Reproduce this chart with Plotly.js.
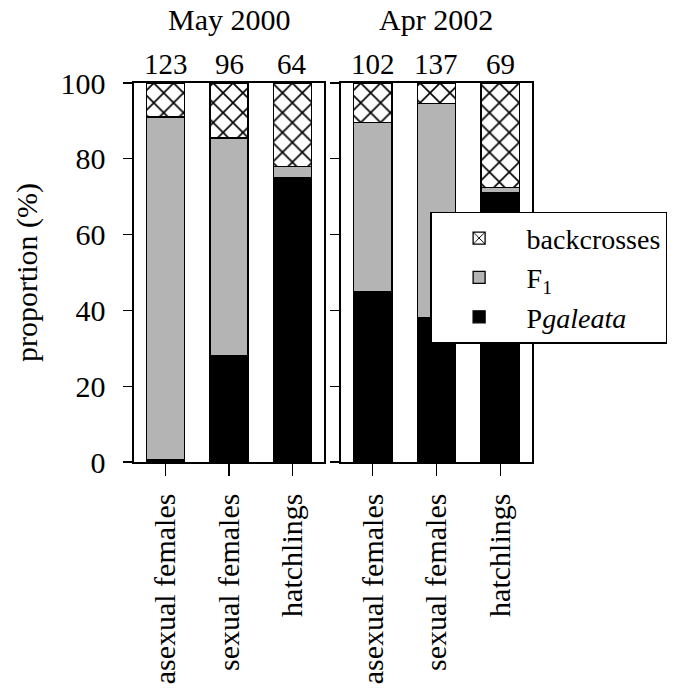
<!DOCTYPE html>
<html>
<head>
<meta charset="utf-8">
<script src="https://cdn.plot.ly/plotly-3.0.1.min.js"></script>
<style>html,body{margin:0;padding:0;background:#fff;}#chart{width:676px;height:689px;}</style>
</head>
<body>
<div id="chart"></div>
<script>
// ---- data ----
const categories = ["asexual females", "sexual females", "hatchlings"];
const panelTitles = ["May 2000", "Apr 2002"];
const counts2000 = [123, 96, 64];
const counts2002 = [102, 137, 69];
const galeata2000 = [0.5, 28, 75];
const f1_2000 = [90.5, 57.5, 3];
const back2000 = [9, 14.5, 22];
const galeata2002 = [45, 38, 71];
const f1_2002 = [44.5, 56.5, 1.5];
const back2002 = [10.5, 5.5, 27.5];
const seriesNames = ["P<i>galeata</i>", "F<sub>1</sub>", "backcrosses"];

// ---- styles ----
const FONT = "Liberation Serif";
const lineStyle = {color: "#000", width: 1.3};
const styles = [
  {color: "#000000", line: lineStyle},
  {color: "#b4b4b4", line: lineStyle},
  {color: "#ffffff", line: lineStyle,
   pattern: {shape: "x", bgcolor: "#ffffff", fgcolor: "#000000", size: 14, solidity: 0.22}}
];

const panelData = [
  {xa: "x", ya: "y", series: [galeata2000, f1_2000, back2000], counts: counts2000},
  {xa: "x2", ya: "y2", series: [galeata2002, f1_2002, back2002], counts: counts2002}
];

const traces = [];
panelData.forEach((p, pi) => {
  p.series.forEach((vals, si) => {
    traces.push({
      type: "bar",
      x: categories,
      y: vals,
      name: seriesNames[si],
      legendgroup: "s" + si,
      showlegend: pi === 0,
      xaxis: p.xa,
      yaxis: p.ya,
      marker: styles[si],
      hoverinfo: "x+y+name"
    });
  });
});

const annotations = [];
panelData.forEach((p, pi) => {
  annotations.push({
    text: panelTitles[pi], xref: p.xa, yref: "paper", x: categories[1], y: 1,
    xanchor: "center", yanchor: "bottom", yshift: 45, showarrow: false,
    font: {family: FONT, size: 30, color: "#000"}
  });
  p.counts.forEach((c, ci) => {
    annotations.push({
      text: String(c), xref: p.xa, yref: "paper", x: categories[ci], y: 1,
      xanchor: "center", yanchor: "bottom", yshift: 1, showarrow: false,
      font: {family: FONT, size: 29, color: "#000"}
    });
  });
});

const xCommon = {
  type: "category", range: [-0.5, 2.5], showline: true, linecolor: "#000", linewidth: 1.6,
  mirror: true, ticks: "outside", ticklen: 12, tickwidth: 1.3, tickcolor: "#000",
  tickangle: -90, tickfont: {family: FONT, size: 30, color: "#000"},
  ticklabelstandoff: 6, showgrid: false, zeroline: false, fixedrange: true
};
const yCommon = {
  range: [0, 100], tickvals: [0, 20, 40, 60, 80, 100], showline: true, linecolor: "#000",
  linewidth: 1.6, mirror: true, ticks: "outside", ticklen: 9, tickwidth: 1.3, tickcolor: "#000",
  tickfont: {family: FONT, size: 30, color: "#000"}, showgrid: false, zeroline: false, fixedrange: true
};

const layout = {
  width: 676, height: 689,
  margin: {l: 134, r: 144, t: 83, b: 227, autoexpand: false},
  paper_bgcolor: "#fff", plot_bgcolor: "#fff",
  barmode: "stack", bargap: 0.4,
  font: {family: FONT, color: "#000"},
  xaxis: Object.assign({}, xCommon, {domain: [0, 0.4774], anchor: "y"}),
  xaxis2: Object.assign({}, xCommon, {domain: [0.520, 1], anchor: "y2"}),
  yaxis: Object.assign({}, yCommon, {anchor: "x", ticklabelstandoff: 12,
    title: {text: "proportion (%)", font: {family: FONT, size: 30, color: "#000"}, standoff: 14}}),
  yaxis2: Object.assign({}, yCommon, {anchor: "x2", showticklabels: false}),
  showlegend: true,
  legend: {
    x: 0.744, y: 0.66, xanchor: "left", yanchor: "top",
    bgcolor: "#fff", bordercolor: "#000", borderwidth: 1.5,
    traceorder: "reversed", tracegroupgap: 0, itemwidth: 85,
    entrywidth: 240, entrywidthmode: "pixels",
    font: {family: FONT, size: 28, color: "#000"}
  },
  annotations: annotations
};

Plotly.newPlot("chart", traces, layout, {displayModeBar: false, staticPlot: true});
</script>
</body>
</html>
